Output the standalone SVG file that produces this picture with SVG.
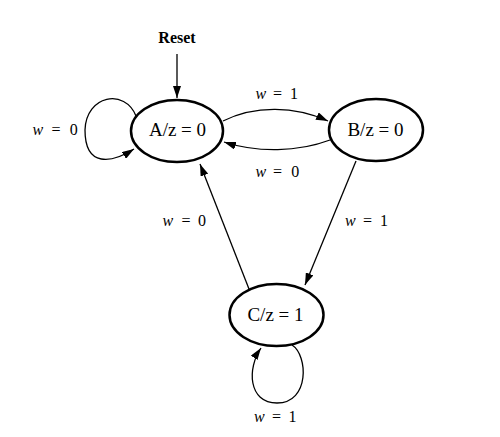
<svg xmlns="http://www.w3.org/2000/svg" width="500" height="437" viewBox="0 0 500 437">
<style>
.state{fill:#fff;stroke:#000;stroke-width:2.5}
.st{font-family:"Liberation Serif","Times New Roman",serif;font-size:19px;text-anchor:middle;fill:#000}
.lbl{font-family:"Liberation Serif","Times New Roman",serif;font-size:16px;fill:#000}
.lbl .v{font-style:italic}
.edge{fill:none;stroke:#000;stroke-width:1.3}
</style>
<defs>
<marker id="arr" markerUnits="userSpaceOnUse" markerWidth="12" markerHeight="8" viewBox="0 0 12 8" refX="12" refY="4" orient="auto">
<path d="M0,0 L12,4 L0,8 Z" fill="#000"/>
</marker>
</defs>
<rect width="500" height="437" fill="#fff"/>
<g id="connectors">
<line class="edge" x1="177" y1="54" x2="177" y2="98" marker-end="url(#arr)"/>
<path class="edge" d="M136,116 C125,88 86,95 85,130 C85,168 112,163 134,149" marker-end="url(#arr)"/>
<path class="edge" d="M223,121 C255,105 295,106 328,121" marker-end="url(#arr)"/>
<path class="edge" d="M330,140 C298,152 258,153 224,142" marker-end="url(#arr)"/>
<line class="edge" x1="356" y1="161" x2="305" y2="285" marker-end="url(#arr)"/>
<line class="edge" x1="249" y1="289" x2="200" y2="164" marker-end="url(#arr)"/>
<path class="edge" d="M292,345 C308,355 310,403 277,403 C248,403 247,368 261,348" marker-end="url(#arr)"/>
<text class="lbl" y="135"><tspan class="v" x="32.5">w</tspan><tspan x="51.5">=</tspan><tspan x="69.7">0</tspan></text>
<text class="lbl" y="99"><tspan class="v" x="255.5">w</tspan><tspan x="273">=</tspan><tspan x="290">1</tspan></text>
<text class="lbl" y="177"><tspan class="v" x="255.5">w</tspan><tspan x="273">=</tspan><tspan x="291.3">0</tspan></text>
<text class="lbl" y="226"><tspan class="v" x="162.5">w</tspan><tspan x="181.5">=</tspan><tspan x="198">0</tspan></text>
<text class="lbl" y="226"><tspan class="v" x="345">w</tspan><tspan x="363">=</tspan><tspan x="380">1</tspan></text>
<text class="lbl" y="421.5"><tspan class="v" x="254">w</tspan><tspan x="272">=</tspan><tspan x="288.5">1</tspan></text>
</g>
<g id="reset">
<text x="177" y="43" font-family="'Liberation Serif','Times New Roman',serif" font-size="16" font-weight="bold" text-anchor="middle">Reset</text>
</g>
<g id="stateA">
<ellipse class="state" cx="177" cy="131" rx="46" ry="31"/>
<text class="st" x="177.5" y="136">A/z = 0</text>
</g>
<g id="stateB">
<ellipse class="state" cx="376" cy="130" rx="47" ry="31"/>
<text class="st" x="375.5" y="135.5">B/z = 0</text>
</g>
<g id="stateC">
<ellipse class="state" cx="276.5" cy="315" rx="47" ry="31"/>
<text class="st" x="275.5" y="321">C/z = 1</text>
</g>
</svg>
